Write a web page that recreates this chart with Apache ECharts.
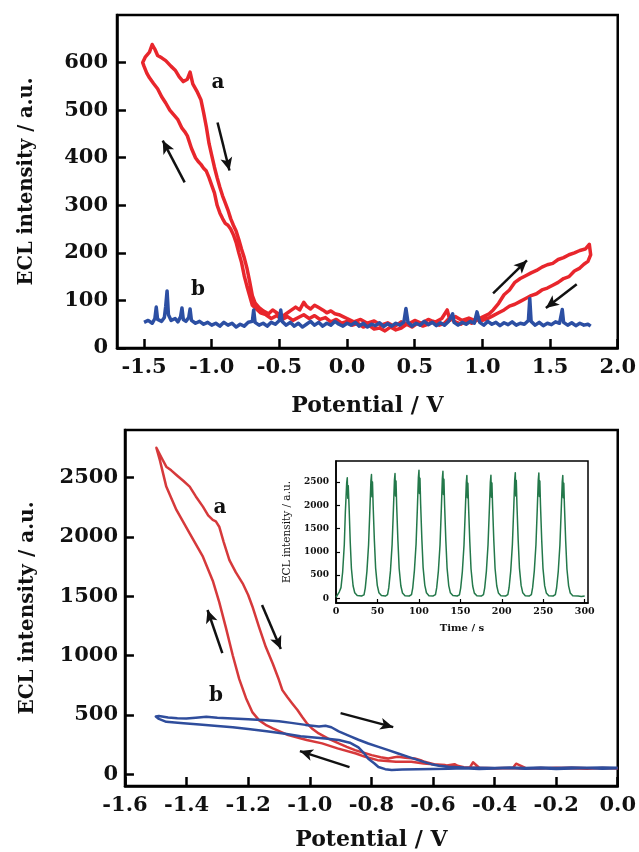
<!DOCTYPE html>
<html>
<head>
<meta charset="utf-8">
<script src="https://cdn.jsdelivr.net/npm/echarts@6.0.0/dist/echarts.min.js"></script>
<style>
html,body{margin:0;padding:0;background:#fff;}
#chart{width:639px;height:852px;}
</style>
</head>
<body>
<div id="chart"></div>
<script>
// ---------- Panel 1: ECL vs potential, wide scan ----------
const topXTicks = [-1.5, -1.0, -0.5, 0.0, 0.5, 1.0, 1.5, 2.0];
const topYTicks = [0, 100, 200, 300, 400, 500, 600];

// curve a (potential V, ECL a.u.)
const topCurveA = [
  [0.00,62],[0.05,55],[0.10,60],[0.15,52],[0.20,57],[0.25,48],[0.30,53],[0.35,45],[0.40,55],[0.45,50],
  [0.50,58],[0.55,52],[0.60,60],[0.65,54],[0.70,62],[0.74,80],[0.76,58],[0.80,66],[0.85,58],[0.90,63],[0.95,57],
  [1.00,65],[1.05,72],[1.08,80],[1.12,94],[1.16,112],[1.20,122],[1.24,138],[1.28,146],[1.32,152],
  [1.36,158],[1.40,163],[1.44,170],[1.48,175],[1.52,178],[1.56,186],[1.60,190],[1.64,196],[1.68,200],
  [1.72,205],[1.76,208],[1.79,218],[1.80,196],
  [1.78,182],[1.75,176],[1.72,168],[1.68,162],[1.64,150],[1.60,146],[1.56,138],[1.52,132],[1.48,126],
  [1.44,122],[1.40,114],[1.36,110],[1.32,104],[1.28,98],[1.24,92],[1.20,88],[1.16,80],[1.12,74],
  [1.08,68],[1.04,62],[1.00,58],[0.96,60],[0.92,52],[0.88,58],[0.84,50],[0.80,55],[0.76,64],[0.72,52],
  [0.68,48],[0.64,56],[0.60,50],[0.56,46],[0.52,52],[0.48,44],[0.44,50],[0.40,42],[0.36,38],[0.32,44],
  [0.28,36],[0.24,42],[0.20,40],[0.16,48],[0.12,44],[0.08,52],[0.04,48],[0.00,56],[-0.04,52],[-0.08,60],
  [-0.12,55],[-0.16,64],[-0.20,60],[-0.24,68],[-0.28,62],[-0.32,70],[-0.36,64],[-0.40,58],[-0.44,66],
  [-0.48,60],[-0.52,68],[-0.56,62],[-0.60,70],[-0.64,74],[-0.67,82],
  [-0.70,90],[-0.72,110],[-0.74,130],[-0.76,152],[-0.78,180],[-0.80,200],[-0.82,222],[-0.84,238],
  [-0.86,250],[-0.88,258],[-0.90,262],[-0.92,272],[-0.94,284],[-0.96,300],[-0.98,326],[-1.00,342],
  [-1.02,358],[-1.04,372],[-1.06,378],[-1.08,386],[-1.10,392],[-1.12,400],[-1.15,420],[-1.18,446],
  [-1.20,455],[-1.22,462],[-1.25,480],[-1.28,490],[-1.31,500],[-1.34,515],[-1.37,528],[-1.40,545],
  [-1.43,556],[-1.46,568],[-1.48,578],[-1.50,592],[-1.51,600],
  [-1.49,612],[-1.46,622],[-1.44,638],[-1.42,628],[-1.40,615],[-1.37,610],[-1.34,604],[-1.30,592],
  [-1.27,584],[-1.24,570],[-1.21,560],[-1.18,565],[-1.16,580],[-1.14,555],[-1.11,540],[-1.08,522],
  [-1.06,495],[-1.04,465],[-1.02,430],[-1.00,405],[-0.98,380],[-0.96,358],[-0.94,338],[-0.92,320],
  [-0.90,305],[-0.88,290],[-0.86,272],[-0.84,258],[-0.82,246],[-0.80,228],[-0.78,208],[-0.76,190],
  [-0.74,168],[-0.72,140],[-0.70,110],[-0.68,95],[-0.65,85],
  [-0.62,78],[-0.58,72],[-0.55,80],[-0.52,74],[-0.48,66],[-0.45,72],[-0.42,78],[-0.38,86],[-0.35,80],
  [-0.32,96],[-0.30,88],[-0.27,82],[-0.24,90],[-0.21,85],[-0.18,80],[-0.15,74],[-0.12,78],[-0.09,72],
  [-0.06,70],[-0.03,66],[0.00,62]
];

// curve b
const topCurveB = [
  [-1.50,54],[-1.47,58],[-1.44,52],[-1.42,62],[-1.41,86],[-1.40,60],[-1.37,56],[-1.35,64],[-1.34,88],
  [-1.33,120],[-1.32,70],[-1.30,58],[-1.27,62],[-1.25,55],[-1.23,66],[-1.22,84],[-1.21,60],[-1.19,56],
  [-1.17,64],[-1.16,82],[-1.15,58],[-1.12,52],[-1.09,56],[-1.06,50],[-1.03,54],[-1.00,48],[-0.97,52],
  [-0.94,46],[-0.91,54],[-0.88,48],[-0.85,52],[-0.82,44],[-0.79,50],[-0.76,46],[-0.73,54],[-0.70,56],
  [-0.69,80],[-0.68,54],[-0.65,48],[-0.62,52],[-0.59,46],[-0.56,54],[-0.53,50],[-0.50,58],[-0.49,80],
  [-0.48,56],[-0.45,48],[-0.42,54],[-0.39,46],[-0.36,52],[-0.33,44],[-0.30,50],[-0.27,56],[-0.24,48],
  [-0.21,54],[-0.18,46],[-0.15,52],[-0.12,48],[-0.09,56],[-0.06,50],[-0.03,46],[0.00,52],[0.03,48],
  [0.06,54],[0.09,46],[0.12,52],[0.15,44],[0.18,50],[0.21,47],[0.24,53],[0.27,45],[0.30,51],[0.33,46],
  [0.36,52],[0.39,48],[0.42,55],[0.435,83],[0.45,54],[0.48,46],[0.51,52],[0.54,48],[0.57,56],[0.60,49],
  [0.63,54],[0.66,47],[0.69,53],[0.72,48],[0.75,56],[0.78,72],[0.79,54],[0.82,48],[0.85,54],[0.88,50],
  [0.91,56],[0.94,52],[0.96,76],[0.98,54],[1.01,48],[1.04,56],[1.07,50],[1.10,54],[1.13,47],[1.16,53],
  [1.19,49],[1.22,55],[1.25,48],[1.28,52],[1.31,50],[1.34,58],[1.35,104],[1.36,56],[1.39,48],[1.42,54],
  [1.45,47],[1.48,52],[1.51,49],[1.54,55],[1.57,52],[1.59,81],[1.60,54],[1.63,48],[1.66,53],[1.69,47],
  [1.72,52],[1.75,48],[1.78,50],[1.80,46]
];

// scan-direction arrows: [tail, head]
const topArrows = [
  [[-1.20,348],[-1.362,436]],
  [[-0.957,474],[-0.869,373]],
  [[1.079,115],[1.329,184]],
  [[1.697,134],[1.469,84]]
];

// ---------- Panel 2: ECL vs potential, cathodic scan ----------
const botXTicks = [-1.6, -1.4, -1.2, -1.0, -0.8, -0.6, -0.4, -0.2, 0.0];
const botYTicks = [0, 500, 1000, 1500, 2000, 2500];

const botCurveA = [
  [0.00,48],[-0.05,52],[-0.10,46],[-0.15,50],[-0.20,54],[-0.25,48],[-0.30,52],[-0.33,88],[-0.34,54],
  [-0.40,50],[-0.45,54],[-0.47,100],[-0.48,56],[-0.52,60],[-0.56,76],[-0.60,84],[-0.63,90],[-0.67,104],
  [-0.72,104],[-0.78,118],[-0.82,146],[-0.85,174],[-0.91,217],[-0.96,259],[-1.01,287],[-1.07,329],
  [-1.12,385],[-1.14,410],[-1.165,455],[-1.186,520],[-1.207,640],[-1.229,800],[-1.25,1000],
  [-1.272,1230],[-1.294,1450],[-1.315,1630],[-1.347,1832],[-1.39,2029],[-1.433,2226],[-1.466,2423],
  [-1.487,2648],[-1.498,2750],
  [-1.48,2660],[-1.466,2591],[-1.45,2560],[-1.433,2521],[-1.41,2470],[-1.39,2423],[-1.37,2340],
  [-1.347,2254],[-1.33,2180],[-1.315,2142],[-1.305,2130],[-1.294,2085],[-1.28,1960],[-1.261,1804],
  [-1.24,1700],[-1.218,1608],[-1.20,1510],[-1.186,1411],[-1.165,1240],[-1.143,1073],[-1.12,930],
  [-1.10,793],[-1.089,708],[-1.073,650],[-1.057,596],[-1.04,540],[-1.025,483],[-1.01,430],[-0.993,385],
  [-0.971,343],[-0.94,300],[-0.906,259],[-0.88,230],[-0.853,202],[-0.825,180],[-0.799,160],[-0.77,142],
  [-0.745,132],[-0.725,142],[-0.713,146],[-0.69,138],[-0.659,132],[-0.64,118],[-0.627,104],[-0.60,86],
  [-0.584,76],[-0.56,70],[-0.53,84],[-0.52,70],[-0.50,58],[-0.45,52],[-0.40,48],[-0.35,52],[-0.30,47],
  [-0.25,51],[-0.20,48],[-0.15,53],[-0.10,49],[-0.05,52],[0.00,50]
];

const botCurveB = [
  [0.00,50],[-0.05,46],[-0.10,52],[-0.15,48],[-0.20,44],[-0.25,50],[-0.30,46],[-0.35,52],[-0.40,48],
  [-0.45,44],[-0.50,50],[-0.55,46],[-0.60,44],[-0.65,42],[-0.70,38],[-0.734,34],[-0.755,42],[-0.777,60],
  [-0.79,90],[-0.81,130],[-0.825,180],[-0.842,225],[-0.87,265],[-0.906,287],[-0.95,300],[-1.03,320],
  [-1.08,340],[-1.14,362],[-1.20,380],[-1.25,395],[-1.30,405],[-1.358,418],[-1.41,428],[-1.466,441],
  [-1.49,465],[-1.50,485],
  [-1.49,490],[-1.46,478],[-1.43,470],[-1.401,469],[-1.37,476],[-1.336,483],[-1.30,475],[-1.25,469],
  [-1.20,462],[-1.143,455],[-1.10,445],[-1.06,432],[-1.014,415],[-0.97,402],[-0.949,408],[-0.93,395],
  [-0.906,360],[-0.87,320],[-0.842,290],[-0.81,258],[-0.777,230],[-0.745,202],[-0.713,174],[-0.68,145],
  [-0.648,118],[-0.62,95],[-0.605,84],[-0.58,70],[-0.55,62],[-0.50,56],[-0.45,54],[-0.40,52],[-0.35,56],
  [-0.30,52],[-0.25,55],[-0.20,52],[-0.15,56],[-0.10,53],[-0.05,56],[0.00,54]
];

const botArrows = [
  [[-1.284,1020],[-1.332,1383]],
  [[-1.155,1425],[-1.094,1054]],
  [[-0.90,514],[-0.729,396]],
  [[-0.871,59],[-1.032,194]]
];

// ---------- Inset: ECL vs time, repeated scans ----------
const insetXTicks = [0, 50, 100, 150, 200, 250, 300];
const insetYTicks = [0, 500, 1000, 1500, 2000, 2500];
const insetTrace = [
  [0,20],[2,80],[4,140],[6,230],[8,560],[10,1150],[11.3,1860],[12.9,2480],[13.6,2590],[14.2,2150],
  [14.8,2420],[15.8,1950],[17.2,1200],[18.6,640],[20.6,270],[22.6,120],[25.6,60],[28,45],
  [30.8,50],[33.8,75],[35.3,220],[37.3,580],[39.3,1150],[40.8,1870],[42.1,2520],[42.8,2660],[43.4,2180],
  [44,2500],[44.8,2000],[46.3,1240],[47.8,650],[49.8,280],[51.8,120],[54.8,60],[56.8,45],
  [59.5,48],[62.2,80],[63.7,230],[65.7,590],[67.7,1160],[69.2,1880],[70.5,2540],[71.2,2680],[71.8,2200],
  [72.4,2520],[73.2,1990],[74.7,1230],[76.2,640],[78.2,270],[80.2,115],[83.2,55],[85.2,42],
  [88.4,50],[91.1,78],[92.6,225],[94.6,600],[96.6,1170],[98.1,1900],[99.4,2600],[100.1,2750],[100.7,2250],
  [101.3,2580],[102.1,2030],[103.6,1260],[105.1,660],[107.1,285],[109.1,120],[112.1,58],[114.1,46],
  [117.3,52],[120,82],[121.5,230],[123.5,585],[125.5,1150],[127,1890],[128.3,2580],[129,2730],[129.6,2230],
  [130.2,2560],[131,2010],[132.5,1240],[134,650],[136,275],[138,118],[141,60],[143,48],
  [146.2,50],[148.9,76],[150.4,220],[152.4,570],[154.4,1140],[155.9,1850],[157.2,2490],[157.9,2640],
  [158.5,2160],[159.1,2470],[159.9,1980],[161.4,1220],[162.9,630],[164.9,265],[166.9,112],[169.9,56],[171.9,44],
  [175.2,48],[177.9,80],[179.4,225],[181.4,580],[183.4,1150],[184.9,1860],[186.2,2500],[186.9,2645],
  [187.5,2170],[188.1,2480],[188.9,1990],[190.4,1230],[191.9,640],[193.9,270],[195.9,116],[198.9,58],[200.9,46],
  [204.6,50],[207.3,78],[208.8,228],[210.8,590],[212.8,1160],[214.3,1880],[215.6,2550],[216.3,2700],
  [216.9,2200],[217.5,2530],[218.3,2000],[219.8,1240],[221.3,650],[223.3,278],[225.3,118],[228.3,57],[230.3,45],
  [233,50],[235.7,80],[237.2,230],[239.2,585],[241.2,1150],[242.7,1870],[244,2540],[244.7,2690],[245.3,2190],
  [245.9,2520],[246.7,2000],[248.2,1230],[249.7,645],[251.7,272],[253.7,117],[256.7,58],[258.7,46],
  [261.9,50],[264.6,78],[266.1,222],[268.1,575],[270.1,1140],[271.6,1850],[272.9,2490],[273.6,2640],
  [274.2,2160],[274.8,2470],[275.6,1980],[277.1,1220],[278.6,630],[280.6,268],[282.6,114],[285.6,58],
  [288,45],[292,50],[296,42],[300,48]
];

// ---------- layout & styling ----------
const SERIF = '"DejaVu Serif", "Liberation Serif", serif';
const RED_TOP = '#e8262c';
const BLUE_TOP = '#2c4fa3';
const RED_BOT = '#d6393b';
const BLUE_BOT = '#2f4d9c';
const GREEN = '#23784a';

const GRIDS = [
  { left: 117, top: 15, width: 503, height: 333, xMin: -1.7, xMax: 2.0, yMin: 0, yMax: 700, tick: 9, tickW: 2.5, border: 2.5 },
  { left: 125, top: 430, width: 495, height: 356, xMin: -1.6, xMax: 0.0, yMin: -100, yMax: 2900, tick: 9, tickW: 2.5, border: 2.5 },
  { left: 336, top: 461, width: 252, height: 142, xMin: 0, xMax: 304, yMin: -100, yMax: 2950, tick: 4, tickW: 1.2, border: 1.5 }
];

function fmt1(v) { return Number(v).toFixed(1); }

function valueAxis(g, o) {
  const G = GRIDS[g];
  const isX = o.dir === 'x';
  return {
    type: 'value',
    gridIndex: g,
    position: isX ? 'bottom' : 'left',
    min: isX ? G.xMin : G.yMin,
    max: isX ? G.xMax : G.yMax,
    axisLine: { show: true, onZero: false, lineStyle: { color: '#000', width: G.border } },
    splitLine: { show: false },
    axisTick: { show: false },
    axisLabel: {
      customValues: o.ticks, formatter: o.formatter, margin: o.labelMargin,
      fontFamily: SERIF, fontWeight: 'bold', fontSize: o.labelSize, color: '#111'
    },
    name: o.name, nameLocation: 'middle', nameGap: o.nameGap, nameRotate: isX ? 0 : 90,
    nameTextStyle: { fontFamily: SERIF, fontWeight: o.nameWeight || 'bold', fontSize: o.nameSize, color: '#111' }
  };
}

// inward tick marks, placed through each grid's own coordinate system
function tickMarks(g, xTicks, yTicks) {
  const G = GRIDS[g];
  const dy = G.tick * (G.yMax - G.yMin) / G.height;
  const dx = G.tick * (G.xMax - G.xMin) / G.width;
  const data = [];
  xTicks.forEach(v => data.push([{ coord: [v, G.yMin] }, { coord: [v, G.yMin + dy] }]));
  yTicks.forEach(v => data.push([{ coord: [G.xMin, v] }, { coord: [G.xMin + dx, v] }]));
  return {
    silent: true,
    symbol: ['none', 'none'],
    label: { show: false },
    emphasis: { disabled: true },
    lineStyle: { color: '#000', width: G.tickW, type: 'solid', opacity: 1 },
    data
  };
}

function arrowLines(list) {
  return {
    silent: true,
    symbol: ['none', 'arrow'],
    symbolSize: [9, 13],
    label: { show: false },
    emphasis: { disabled: true },
    lineStyle: { color: '#111', width: 2.5, type: 'solid' },
    data: list.map(a => [{ coord: a[0] }, { coord: a[1] }])
  };
}

function lineSeries(name, idx, data, color, width, marks) {
  const s = {
    name, type: 'line', xAxisIndex: idx, yAxisIndex: idx, data,
    showSymbol: false, smooth: false, silent: true, clip: false,
    lineStyle: { color, width, join: 'round' }
  };
  if (marks) s.markLine = marks;
  return s;
}

const chart = echarts.init(document.getElementById('chart'), null, { renderer: 'canvas' });

chart.setOption({
  animation: false,
  backgroundColor: '#ffffff',
  grid: GRIDS.map((G, i) => ({
    left: G.left, top: G.top, width: G.width, height: G.height,
    show: true, borderColor: '#000', borderWidth: G.border,
    backgroundColor: i === 2 ? '#ffffff' : 'transparent'
  })),
  xAxis: [
    valueAxis(0, { dir: 'x', ticks: topXTicks, formatter: fmt1, labelMargin: 9, labelSize: 21,
      name: 'Potential / V', nameGap: 47, nameSize: 22 }),
    valueAxis(1, { dir: 'x', ticks: botXTicks, formatter: fmt1, labelMargin: 9, labelSize: 21,
      name: 'Potential / V', nameGap: 43, nameSize: 22 }),
    valueAxis(2, { dir: 'x', ticks: insetXTicks, formatter: v => String(v), labelMargin: 4, labelSize: 9.5,
      name: 'Time / s', nameGap: 20, nameSize: 10 })
  ],
  yAxis: [
    valueAxis(0, { dir: 'y', ticks: topYTicks, formatter: v => String(v), labelMargin: 9, labelSize: 21,
      name: 'ECL intensity / a.u.', nameGap: 80, nameSize: 19.5 }),
    valueAxis(1, { dir: 'y', ticks: botYTicks, formatter: v => String(v), labelMargin: 7, labelSize: 21,
      name: 'ECL intensity / a.u.', nameGap: 87, nameSize: 20 }),
    valueAxis(2, { dir: 'y', ticks: insetYTicks, formatter: v => String(v), labelMargin: 7, labelSize: 9,
      name: 'ECL intensity / a.u.', nameGap: 43, nameSize: 10.5, nameWeight: 'normal' })
  ],
  series: [
    lineSeries('a', 0, topCurveA, RED_TOP, 3.5, arrowLines(topArrows)),
    lineSeries('b', 0, topCurveB, BLUE_TOP, 3.5, tickMarks(0, topXTicks, topYTicks)),
    lineSeries('a', 1, botCurveA, RED_BOT, 2.5, arrowLines(botArrows)),
    lineSeries('b', 1, botCurveB, BLUE_BOT, 2.5, tickMarks(1, botXTicks, botYTicks)),
    lineSeries('scan', 2, insetTrace, GREEN, 1.5, tickMarks(2, insetXTicks, insetYTicks))
  ],
  graphic: [
    { type: 'text', x: 218, y: 83, style: { text: 'a', font: 'bold 20px ' + SERIF, fill: '#111', align: 'center', verticalAlign: 'middle' } },
    { type: 'text', x: 198, y: 290, style: { text: 'b', font: 'bold 20px ' + SERIF, fill: '#111', align: 'center', verticalAlign: 'middle' } },
    { type: 'text', x: 220, y: 508, style: { text: 'a', font: 'bold 20px ' + SERIF, fill: '#111', align: 'center', verticalAlign: 'middle' } },
    { type: 'text', x: 216, y: 696, style: { text: 'b', font: 'bold 20px ' + SERIF, fill: '#111', align: 'center', verticalAlign: 'middle' } }
  ]
});
</script>
</body>
</html>
